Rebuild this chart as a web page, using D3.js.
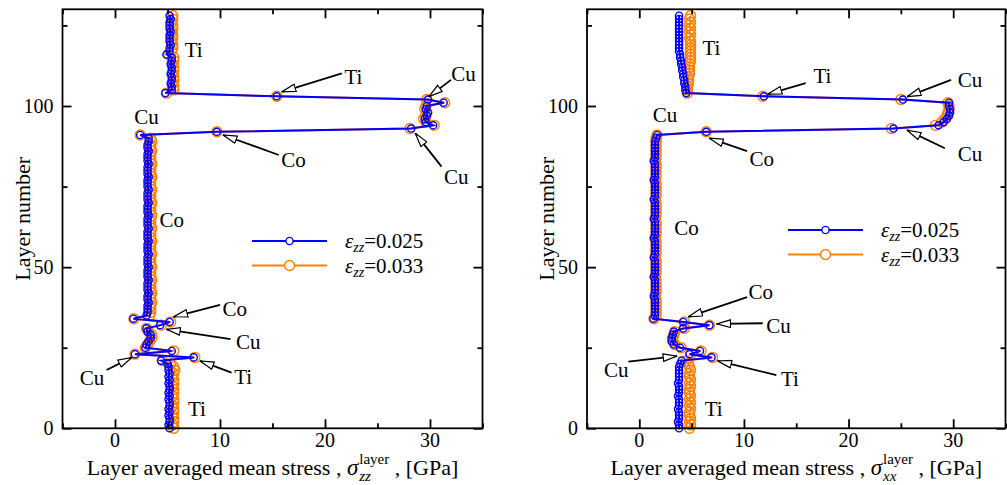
<!DOCTYPE html>
<html>
<head>
<meta charset="utf-8">
<script src="https://cdn.jsdelivr.net/npm/d3@7"></script>
<style>
  body { margin: 0; background: #fff; }
  text { font-family: "Liberation Serif", "Times New Roman", serif; fill: #000; }
</style>
</head>
<body>
<svg id="chart" width="1007" height="485" font-family="Liberation Serif, serif"></svg>
<script>
// layer number = array index (0..128)
var zzLow = [
  5.2,5.1,5.2,5.2,5.1,5.2,5.1,5.2,5.2,5.1,
  5.2,5.1,5.2,5.2,5.1,5.2,5.1,5.2,5.1,5.1,
  5.0,4.4,7.5,1.9,5.4,2.9,3.0,3.2,3.4,3.4,
  3.1,3.0,4.3,5.2,1.75,3.0,3.1,3.1,3.1,3.2,
  3.1,3.1,3.2,3.1,3.1,3.1,3.2,3.1,3.1,3.1,
  3.2,3.1,3.1,3.1,3.2,3.1,3.1,3.1,3.2,3.1,
  3.1,3.1,3.2,3.1,3.1,3.1,3.2,3.1,3.1,3.1,
  3.2,3.1,3.1,3.1,3.2,3.1,3.1,3.1,3.2,3.1,
  3.1,3.1,3.2,3.1,3.1,3.1,3.2,3.1,3.1,3.2,
  3.2,2.4,9.7,28.2,30.3,29.6,29.5,29.7,29.8,29.6,
  29.7,31.3,29.8,15.4,4.8,5.4,5.4,5.3,5.4,5.4,
  5.3,5.4,5.4,5.3,5.4,5.4,4.9,5.2,5.2,5.3,
  5.2,5.2,5.2,5.3,5.2,5.2,5.2,5.3,5.2
];
var zzHigh = [
  5.6,5.5,5.6,5.6,5.5,5.6,5.6,5.5,5.6,5.6,
  5.5,5.6,5.6,5.5,5.6,5.6,5.5,5.6,5.7,5.6,
  5.3,4.5,7.6,1.9,5.6,2.9,3.1,3.3,3.5,3.5,
  3.2,3.0,4.4,5.3,1.8,3.3,3.4,3.4,3.4,3.5,
  3.4,3.4,3.5,3.4,3.4,3.4,3.5,3.4,3.4,3.4,
  3.5,3.4,3.4,3.4,3.5,3.4,3.4,3.4,3.5,3.4,
  3.4,3.4,3.5,3.4,3.4,3.4,3.5,3.4,3.4,3.4,
  3.5,3.4,3.4,3.4,3.5,3.4,3.4,3.4,3.5,3.4,
  3.4,3.4,3.5,3.4,3.4,3.4,3.5,3.4,3.4,3.5,
  3.4,2.4,9.7,28.1,30.4,29.6,29.4,29.6,29.7,29.5,
  29.6,31.4,29.7,15.4,4.9,5.6,5.6,5.5,5.6,5.6,
  5.5,5.6,5.6,5.5,5.6,5.6,5.1,5.4,5.5,5.5,
  5.4,5.5,5.5,5.4,5.5,5.5,5.4,5.5,5.5
];
var xxLow = [
  3.8,3.8,3.7,3.8,3.8,3.8,3.7,3.8,3.8,3.8,
  3.7,3.8,3.8,3.8,3.7,3.8,3.8,3.8,3.8,3.8,
  3.9,4.05,6.9,4.8,5.8,3.9,3.3,3.1,3.1,3.2,
  3.3,4.2,6.7,4.2,1.35,1.5,1.5,1.5,1.5,1.5,
  1.5,1.4,1.5,1.5,1.5,1.5,1.5,1.4,1.5,1.5,
  1.5,1.5,1.5,1.4,1.5,1.5,1.5,1.5,1.5,1.4,
  1.5,1.5,1.5,1.5,1.5,1.4,1.5,1.5,1.5,1.5,
  1.5,1.4,1.5,1.5,1.5,1.5,1.5,1.4,1.5,1.5,
  1.5,1.5,1.5,1.4,1.5,1.5,1.5,1.5,1.5,1.5,
  1.6,1.7,6.4,24.3,28.6,29.1,29.4,29.6,29.7,29.7,
  29.6,29.6,25.2,11.9,4.5,4.4,4.4,4.3,4.3,4.2,
  4.2,4.1,4.1,4.0,4.0,3.9,3.9,3.8,3.8,3.8,
  3.8,3.8,3.8,3.8,3.8,3.8,3.8,3.8,3.8
];
var xxHigh = [
  4.8,4.9,4.8,4.9,4.8,4.8,4.9,4.8,4.9,4.8,
  4.9,4.8,4.8,4.9,4.8,4.9,4.8,4.8,4.9,4.8,
  4.7,4.5,7.0,4.9,5.9,4.0,3.4,3.2,3.2,3.3,
  3.4,4.3,6.7,4.3,1.4,1.6,1.6,1.6,1.6,1.6,
  1.6,1.5,1.6,1.6,1.6,1.6,1.6,1.5,1.6,1.6,
  1.6,1.6,1.6,1.5,1.6,1.6,1.6,1.6,1.6,1.5,
  1.6,1.6,1.6,1.6,1.6,1.5,1.6,1.6,1.6,1.6,
  1.6,1.5,1.6,1.6,1.6,1.6,1.6,1.5,1.6,1.6,
  1.6,1.6,1.6,1.5,1.6,1.6,1.6,1.6,1.6,1.6,
  1.6,1.7,6.4,24.1,28.3,28.9,29.2,29.4,29.5,29.6,
  29.6,29.5,25.0,11.8,4.6,4.6,4.6,4.7,4.7,4.7,
  4.8,4.8,4.8,4.8,4.9,4.9,4.9,4.9,4.9,4.9,
  4.9,4.8,4.9,4.8,4.9,4.8,4.9,4.8,4.9
];

var seriesNames = ['0.025', '0.033'];
var xTickLabels = [0, 10, 20, 30];
var yTickLabels = [0, 50, 100];

// labels: t = text, x/y = text centre (stress, layer); arrow from (ax, ay) to (bx, by)
var zzNotes = [
  {t: 'Ti', x: 7.5, y: 117.4},
  {t: 'Ti', x: 22.7, y: 109.1, ax: 21.6, ay: 110.1, bx: 15.9, by: 104.4},
  {t: 'Cu', x: 33.2, y: 110.1, ax: 32.0, ay: 108.1, bx: 29.9, by: 102.9},
  {t: 'Cu', x: 3.0, y: 96.7},
  {t: 'Co', x: 17.0, y: 83.2, ax: 15.6, ay: 84.8, bx: 10.3, by: 91.0},
  {t: 'Cu', x: 32.5, y: 78.0, ax: 31.1, ay: 81.2, bx: 28.6, by: 91.5},
  {t: 'Co', x: 5.4, y: 64.6},
  {t: 'Co', x: 11.4, y: 37.0, ax: 10.0, ay: 38.3, bx: 5.6, by: 34.6},
  {t: 'Cu', x: 12.7, y: 26.8, ax: 11.0, ay: 27.7, bx: 4.9, by: 30.7},
  {t: 'Cu', x: -2.2, y: 15.6, ax: -0.8, ay: 18.1, bx: 1.6, by: 22.0},
  {t: 'Ti', x: 12.2, y: 16.0, ax: 11.1, ay: 17.3, bx: 8.1, by: 20.9},
  {t: 'Ti', x: 7.8, y: 6.0}
];
var xxNotes = [
  {t: 'Ti', x: 6.9, y: 118.0},
  {t: 'Ti', x: 17.5, y: 109.3, ax: 15.9, ay: 107.1, bx: 12.3, by: 103.7},
  {t: 'Cu', x: 31.6, y: 108.3, ax: 29.8, ay: 108.1, bx: 25.6, by: 102.9},
  {t: 'Cu', x: 2.45, y: 97.2},
  {t: 'Co', x: 11.7, y: 83.8, ax: 10.3, ay: 86.0, bx: 6.7, by: 90.0},
  {t: 'Cu', x: 31.6, y: 85.3, ax: 29.2, ay: 86.9, bx: 25.6, by: 92.5},
  {t: 'Co', x: 4.5, y: 62.2},
  {t: 'Co', x: 11.6, y: 42.5, ax: 10.3, ay: 40.7, bx: 4.7, by: 34.6},
  {t: 'Cu', x: 13.3, y: 32.0, ax: 11.8, ay: 32.6, bx: 7.4, by: 32.4},
  {t: 'Cu', x: -2.2, y: 18.1, ax: -1.05, ay: 20.7, bx: 3.6, by: 22.4},
  {t: 'Ti', x: 14.4, y: 15.5, ax: 13.1, ay: 16.5, bx: 7.5, by: 20.9},
  {t: 'Ti', x: 7.1, y: 6.2}
];

var svg = d3.select('#chart');
var colors = ['#0000ff', '#ff8000'];
var radius = [3.6, 5];
var plotTop = 9.3, plotBottom = 428.3;

var defs = svg.append('defs');
defs.append('marker')
    .attr('id', 'head')
    .attr('viewBox', '0 0 15 9')
    .attr('refX', 14.5).attr('refY', 4.5)
    .attr('markerWidth', 15).attr('markerHeight', 9)
    .attr('markerUnits', 'userSpaceOnUse')
    .attr('orient', 'auto')
  .append('path')
    .attr('d', 'M0.7,0.7 L14.5,4.5 L0.7,8.3 Z')
    .attr('fill', '#fff')
    .attr('stroke', '#000')
    .attr('stroke-width', 1.2);

var panels = [
  {left: 62.5, right: 482.5, series: [zzLow, zzHigh], sub: 'zz', notes: zzNotes, legX: 252, legY: 241},
  {left: 587, right: 1005.5, series: [xxLow, xxHigh], sub: 'xx', notes: xxNotes, legX: 788, legY: 230}
];

panels.forEach(function (p) {
    var x = d3.scaleLinear().domain([-5, 35]).range([p.left, p.right]);
    var y = d3.scaleLinear().domain([0, 130]).range([plotBottom, plotTop]);
    var g = svg.append('g');

    // series: orange underneath, blue on top
    [1, 0].forEach(function (s) {
        var vals = p.series[s];
        var line = d3.line().x(function (d) { return x(d); }).y(function (d, i) { return y(i); });
        g.append('path')
            .attr('d', line(vals))
            .attr('fill', 'none')
            .attr('stroke', colors[s])
            .attr('stroke-width', 2);
        g.append('g').selectAll('circle').data(vals).enter().append('circle')
            .attr('cx', function (d) { return x(d); })
            .attr('cy', function (d, i) { return y(i); })
            .attr('r', radius[s])
            .attr('fill', 'none')
            .attr('stroke', colors[s])
            .attr('stroke-width', 1.4);
    });

    // axes on all four sides, ticks pointing inward
    var xTicks = d3.range(-5, 36, 5), yTicks = d3.range(0, 131, 25);
    function tickLen(d, major) { return major.indexOf(d) >= 0 ? 9 : 5; }
    var ax = g.append('g');
    ax.append('g').attr('transform', 'translate(0,' + plotBottom + ')')
        .call(d3.axisBottom(x).tickValues(xTicks).tickSize(0).tickFormat(''));
    ax.append('g').attr('transform', 'translate(0,' + plotTop + ')')
        .call(d3.axisTop(x).tickValues(xTicks).tickSize(0).tickFormat(''));
    ax.append('g').attr('transform', 'translate(' + p.left + ',0)')
        .call(d3.axisLeft(y).tickValues(yTicks).tickSize(0).tickFormat(''));
    ax.append('g').attr('transform', 'translate(' + p.right + ',0)')
        .call(d3.axisRight(y).tickValues(yTicks).tickSize(0).tickFormat(''));
    ax.selectAll('.domain').remove();
    var axGroups = ax.selectAll(':scope > g').nodes();
    d3.select(axGroups[0]).selectAll('.tick line').attr('y2', function (d) { return -tickLen(d, xTickLabels); });
    d3.select(axGroups[1]).selectAll('.tick line').attr('y2', function (d) { return tickLen(d, xTickLabels); });
    d3.select(axGroups[2]).selectAll('.tick line').attr('x2', function (d) { return tickLen(d, yTickLabels); });
    d3.select(axGroups[3]).selectAll('.tick line').attr('x2', function (d) { return -tickLen(d, yTickLabels); });
    ax.selectAll('.tick line').attr('stroke', '#000').attr('stroke-width', 1.8);

    g.append('rect')
        .attr('x', p.left).attr('y', plotTop)
        .attr('width', p.right - p.left).attr('height', plotBottom - plotTop)
        .attr('fill', 'none').attr('stroke', '#000').attr('stroke-width', 1.8);

    // tick labels
    g.selectAll('.xl').data(xTickLabels).enter().append('text')
        .attr('x', function (d) { return x(d); })
        .attr('y', 447)
        .attr('text-anchor', 'middle')
        .style('font-size', '20px')
        .text(function (d) { return d; });
    g.selectAll('.yl').data(yTickLabels).enter().append('text')
        .attr('x', p.left - 9)
        .attr('y', function (d) { return y(d); })
        .attr('dy', '0.35em')
        .attr('text-anchor', 'end')
        .style('font-size', '20px')
        .text(function (d) { return d; });

    // y title
    g.append('text')
        .attr('transform', 'translate(' + (p.left - 33) + ',' + ((plotTop + plotBottom) / 2) + ') rotate(-90)')
        .attr('text-anchor', 'middle')
        .style('font-size', '22px')
        .text('Layer number');

    // x title with sigma sub/superscript
    var tg = g.append('g');
    var t1 = tg.append('text').attr('x', 0).attr('y', 0).style('font-size', '22px')
        .text('Layer averaged mean stress ,\u00a0');
    var w1 = t1.node().getComputedTextLength();
    var sig = tg.append('text').attr('x', w1).attr('y', 0).style('font-size', '23px')
        .style('font-style', 'italic').text('\u03c3');
    var ws = sig.node().getComputedTextLength();
    var sb = tg.append('text').attr('x', w1 + ws + 1).attr('y', 6).style('font-size', '15px')
        .style('font-style', 'italic').text(p.sub);
    var sp = tg.append('text').attr('x', w1 + ws + 1).attr('y', -11).style('font-size', '15px')
        .text('layer');
    var wsup = Math.max(sp.node().getComputedTextLength(), sb.node().getComputedTextLength());
    var t3 = tg.append('text').attr('x', w1 + ws + 1 + wsup).attr('y', 0).style('font-size', '22px')
        .text('\u00a0, [GPa]');
    var total = w1 + ws + 1 + wsup + t3.node().getComputedTextLength();
    tg.attr('transform', 'translate(' + ((p.left + p.right) / 2 - total / 2) + ',475)');

    // annotations
    p.notes.forEach(function (n) {
        if (n.ax !== undefined) {
            g.append('line')
                .attr('x1', x(n.ax)).attr('y1', y(n.ay))
                .attr('x2', x(n.bx)).attr('y2', y(n.by))
                .attr('stroke', '#000').attr('stroke-width', 1.8)
                .attr('marker-end', 'url(#head)');
        }
        g.append('text')
            .attr('x', x(n.x)).attr('y', y(n.y))
            .attr('dy', '0.35em')
            .attr('text-anchor', 'middle')
            .style('font-size', '21px')
            .text(n.t);
    });

    // legend
    var lg = g.append('g');
    seriesNames.forEach(function (name, s) {
        var yy = p.legY + s * 24.5;
        lg.append('line')
            .attr('x1', p.legX).attr('x2', p.legX + 75)
            .attr('y1', yy).attr('y2', yy)
            .attr('stroke', colors[s]).attr('stroke-width', 2);
        lg.append('circle')
            .attr('cx', p.legX + 37.5).attr('cy', yy).attr('r', radius[s])
            .attr('fill', '#fff').attr('stroke', colors[s]).attr('stroke-width', 1.4);
        var tx = lg.append('text').attr('x', p.legX + 93).attr('y', yy + 7).style('font-size', '21px');
        tx.append('tspan').style('font-style', 'italic').text('\u03b5');
        tx.append('tspan').style('font-style', 'italic').style('font-size', '14px').attr('dy', 4).text('zz');
        tx.append('tspan').attr('dy', -4).text('=' + name);
    });
});
</script>
</body>
</html>
